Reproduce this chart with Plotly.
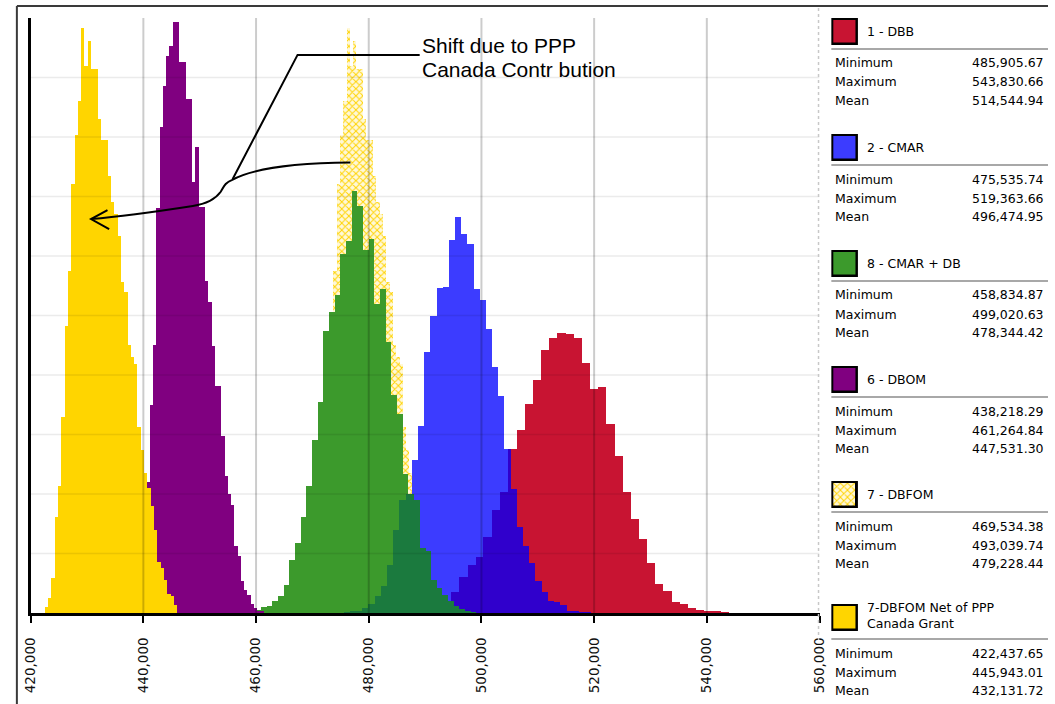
import numpy as np
import plotly.graph_objects as go

# ---------------------------------------------------------------- data
series_names = ["1 - DBB", "2 - CMAR", "8 - CMAR + DB", "6 - DBOM", "7 - DBFOM",
                "7-DBFOM Net of PPP<br>Canada Grant"]
sim_min = [485905.67, 475535.74, 458834.87, 438218.29, 469534.38, 422437.65]
sim_max = [543830.66, 519363.66, 499020.63, 461264.84, 493039.74, 445943.01]
sim_mean = [514544.94, 496474.95, 478344.42, 447531.30, 479228.44, 432131.72]

# relative frequency per bin (40 equal bins between min and max of each option)
dbb_freq = [0.01, 0.01, 0.03, 0.05, 0.10, 0.20, 0.35, 0.60, 0.80, 0.94,
            1.28, 1.73, 2.04, 2.76, 3.08, 3.51, 3.92, 4.42, 4.62, 4.71,
            4.69, 4.63, 4.20, 3.76, 3.80, 3.17, 2.64, 2.03, 1.58, 1.24,
            0.84, 0.49, 0.37, 0.19, 0.15, 0.08, 0.05, 0.02, 0.04, 0.01]
cmar_freq = [0.01, 0.02, 0.04, 0.08, 0.15, 0.28, 0.45, 0.80, 1.40, 1.90,
             2.00, 2.57, 3.14, 4.38, 5.00, 5.46, 5.48, 6.27, 6.66, 6.37,
             6.21, 5.45, 5.26, 4.78, 4.14, 3.64, 2.76, 2.09, 1.44, 1.12,
             0.84, 0.53, 0.36, 0.20, 0.18, 0.13, 0.04, 0.02, 0.01, 0.01]
cmar_db_freq = [0.02, 0.05, 0.10, 0.12, 0.20, 0.29, 0.47, 0.89, 1.17, 1.62,
                2.13, 2.90, 3.55, 4.74, 5.06, 5.35, 6.03, 6.26, 7.10, 6.84,
                6.10, 6.29, 5.19, 5.45, 4.55, 3.66, 3.35, 2.33, 2.00, 1.90,
                1.10, 1.05, 0.55, 0.42, 0.30, 0.20, 0.12, 0.06, 0.03, 0.01]
dbom_freq = [0.05, 0.20, 0.55, 1.20, 2.20, 3.50, 4.50, 6.80, 8.17, 8.86,
             9.36, 9.53, 9.94, 9.94, 9.26, 9.26, 8.64, 8.64, 7.24, 7.83,
             6.82, 6.82, 5.58, 5.22, 4.49, 3.81, 3.81, 2.98, 2.30, 2.00,
             1.81, 1.13, 0.96, 0.54, 0.38, 0.30, 0.15, 0.08, 0.03, 0.02]
dbfom_net_freq = [0.10, 0.26, 0.58, 1.61, 2.13, 3.29, 4.82, 5.75, 7.21, 8.03,
                  8.61, 9.83, 9.20, 9.62, 9.14, 9.14, 8.30, 7.95, 7.95, 7.35,
                  6.90, 6.70, 6.34, 5.57, 5.40, 4.50, 4.30, 4.19, 3.13, 2.74,
                  2.35, 2.10, 1.80, 1.40, 0.85, 0.75, 0.55, 0.32, 0.28, 0.13]
# the grant lowers every iteration by the same amount, so the gross DBFOM
# histogram carries the same frequencies over its own (shifted) bins
dbfom_freq = list(dbfom_net_freq)

x_ticks = list(range(420000, 560001, 20000))

W, H = 1055, 704


def fx(px):
    return px / W


def fy(py):
    return 1 - py / H


def edges_of(i, freq):
    return np.linspace(sim_min[i], sim_max[i], len(freq) + 1)


def step_eval(edges, freq, xs):
    idx = np.searchsorted(edges, xs, side="right") - 1
    out = np.zeros(len(xs))
    ok = (idx >= 0) & (idx < len(freq))
    out[ok] = np.asarray(freq)[idx[ok]]
    return out


def overlap(i, fa, j, fb):
    """Common area of two histograms (min of both step functions)."""
    ea, eb = edges_of(i, fa), edges_of(j, fb)
    lo, hi = max(ea[0], eb[0]), min(ea[-1], eb[-1])
    e = np.unique(np.concatenate([ea, eb, [lo, hi]]))
    e = e[(e >= lo) & (e <= hi)]
    mids = (e[:-1] + e[1:]) / 2
    h = np.minimum(step_eval(ea, fa, mids), step_eval(eb, fb, mids))
    return mids, np.diff(e), h


HATCH = dict(shape="x", fgcolor="#ffd400", bgcolor="#fff8d8", size=5, solidity=0.35,
             fillmode="replace")
COL = {"dbb": "#c81432", "cmar": "#3c3cff", "cmar_db": "#3c9a2c", "dbom": "#800080",
       "net": "#ffd500", "cmar_dbb": "#3000cc", "cmar_db_cmar": "#1b7a3e"}

fig = go.Figure()


def add_hist(i, freq, marker):
    e = edges_of(i, freq)
    fig.add_trace(go.Bar(x=(e[:-1] + e[1:]) / 2, y=freq, width=e[1] - e[0],
                         marker=dict(marker, line=dict(width=0)),
                         name=series_names[i].replace("<br>", " ")))


def add_overlap(i, fa, j, fb, color):
    x, w, h = overlap(i, fa, j, fb)
    fig.add_trace(go.Bar(x=x, y=h, width=w, marker=dict(color=color, line=dict(width=0)),
                         hoverinfo="skip"))


# drawing order: bottom to top
add_hist(0, dbb_freq, dict(color=COL["dbb"]))
add_hist(4, dbfom_freq, dict(color="#fff8d8", pattern=HATCH))
add_hist(1, cmar_freq, dict(color=COL["cmar"]))
add_overlap(1, cmar_freq, 0, dbb_freq, COL["cmar_dbb"])
add_hist(2, cmar_db_freq, dict(color=COL["cmar_db"]))
add_overlap(2, cmar_db_freq, 1, cmar_freq, COL["cmar_db_cmar"])
add_hist(3, dbom_freq, dict(color=COL["dbom"]))
add_hist(5, dbfom_net_freq, dict(color=COL["net"]))

# hatched swatch for the DBFOM legend entry
fig.add_trace(go.Bar(x=[0], y=[1], width=1, xaxis="x2", yaxis="y2", hoverinfo="skip",
                     marker=dict(color="#fff8d8", line=dict(width=0), pattern=HATCH)))

shapes = []
# grid drawn over the bars
for v in x_ticks[1:-1]:
    shapes.append(dict(type="line", xref="x", yref="y", x0=v, x1=v, y0=0, y1=10,
                       line=dict(color="rgba(0,0,0,0.2)", width=2), layer="above"))
for g in range(1, 10):
    shapes.append(dict(type="line", xref="x", yref="y", x0=420000, x1=560000, y0=g, y1=g,
                       line=dict(color="rgba(0,0,0,0.08)", width=1.5), layer="above"))

# outer frame and chart/legend divider
shapes.append(dict(type="line", xref="paper", yref="paper", x0=fx(8), x1=1, y0=fy(6), y1=fy(6),
                   line=dict(color="#3a3a3a", width=2)))
shapes.append(dict(type="line", xref="paper", yref="paper", x0=fx(8), x1=fx(8), y0=fy(6), y1=0,
                   line=dict(color="#3a3a3a", width=2)))
shapes.append(dict(type="line", xref="paper", yref="paper", x0=fx(822), x1=fx(822), y0=fy(8), y1=fy(640),
                   line=dict(color="#c8c8c8", width=1.5, dash="dot")))

# callout
shapes.append(dict(type="path", xref="x", yref="y", layer="above",
                   path="M 489039,9.38 L 467365,9.38 L 455830,7.29",
                   line=dict(color="black", width=2)))
shapes.append(dict(type="path", xref="x", yref="y", layer="above",
                   path=("M 476752,7.57 C 466000,7.56 459000,7.45 455778,7.28 "
                         "C 454300,7.22 454300,7.16 453733,7.08 "
                         "C 452900,6.97 451500,6.88 448786,6.84 "
                         "C 444000,6.77 437000,6.67 430714,6.62"),
                   line=dict(color="black", width=2)))
shapes.append(dict(type="path", xref="x", yref="y", layer="above",
                   path="M 433633,6.77 L 430714,6.62 L 433930,6.45",
                   line=dict(color="black", width=2)))

callout_font = dict(family="Liberation Sans", size=21, color="black")
annotations = [
    dict(xref="paper", yref="paper", x=fx(417), y=fy(46), xanchor="left", yanchor="middle",
         text="Shift due to PPP", showarrow=False, font=callout_font),
    dict(xref="paper", yref="paper", x=fx(417), y=fy(70), xanchor="left", yanchor="middle",
         text="Canada Contr bution", showarrow=False, font=callout_font),
]

# ---------------------------------------------------------------- legend panel
swatch_fill = [COL["dbb"], COL["cmar"], COL["cmar_db"], COL["dbom"], None, COL["net"]]
swatch_top = [18, 134, 250, 366, 481, 604]
legend_font = dict(family="DejaVu Sans", size=12.5, color="#000000")
for i, name in enumerate(series_names):
    top = swatch_top[i]
    two_line = "<br>" in name
    shapes.append(dict(type="rect", xref="paper", yref="paper", x0=fx(835), x1=fx(862),
                       y0=fy(top), y1=fy(top + 27), line=dict(width=0), fillcolor="black",
                       layer="below"))
    if swatch_fill[i] is not None:
        shapes.append(dict(type="rect", xref="paper", yref="paper", x0=fx(837), x1=fx(859.5),
                           y0=fy(top + 2), y1=fy(top + 24.5), line=dict(width=0),
                           fillcolor=swatch_fill[i], layer="below"))
    annotations.append(dict(xref="paper", yref="paper", x=fx(869), y=fy(top + (11 if two_line else 13.5)),
                            xanchor="left", yanchor="middle", text=name, showarrow=False,
                            align="left", font=legend_font))
    sep = top + (35 if two_line else 31)
    shapes.append(dict(type="line", xref="paper", yref="paper", x0=fx(835), x1=1, y0=fy(sep), y1=fy(sep),
                       line=dict(color="#a8a8a8", width=2)))
    for off, lab, val in zip((14, 33, 51), ("Minimum", "Maximum", "Mean"),
                             (sim_min[i], sim_max[i], sim_mean[i])):
        annotations.append(dict(xref="paper", yref="paper", x=fx(837), y=fy(sep + off),
                                xanchor="left", yanchor="middle", text=lab, showarrow=False,
                                font=legend_font))
        annotations.append(dict(xref="paper", yref="paper", x=fx(1053), y=fy(sep + off),
                                xanchor="right", yanchor="middle", text=f"{val:,.2f}",
                                showarrow=False, font=legend_font))

hatch_top = swatch_top[4]
fig.update_layout(
    width=W, height=H, margin=dict(l=0, r=0, t=0, b=0),
    paper_bgcolor="white", plot_bgcolor="white",
    barmode="overlay", bargap=0, showlegend=False,
    xaxis=dict(domain=[fx(22), fx(823)], range=[420000, 560000], tickvals=x_ticks,
               tickformat=",d", tickangle=-90, showgrid=False, zeroline=False,
               showline=True, linecolor="black", linewidth=3,
               ticks="outside", ticklen=7, tickwidth=2, tickcolor="black",
               ticklabelstandoff=9,
               tickfont=dict(family="DejaVu Sans", size=13.5, color="#111111")),
    yaxis=dict(domain=[fy(613), fy(18)], range=[0, 10], showgrid=False, zeroline=False,
               showticklabels=False, ticks="", showline=True, linecolor="black", linewidth=3),
    xaxis2=dict(domain=[fx(837), fx(859.5)], range=[-0.5, 0.5], visible=False, fixedrange=True,
                anchor="y2"),
    yaxis2=dict(domain=[fy(hatch_top + 24.5), fy(hatch_top + 2)], range=[0, 1], visible=False,
                anchor="x2", fixedrange=True),
    shapes=shapes, annotations=annotations,
)

fig.write_html("out.html")
